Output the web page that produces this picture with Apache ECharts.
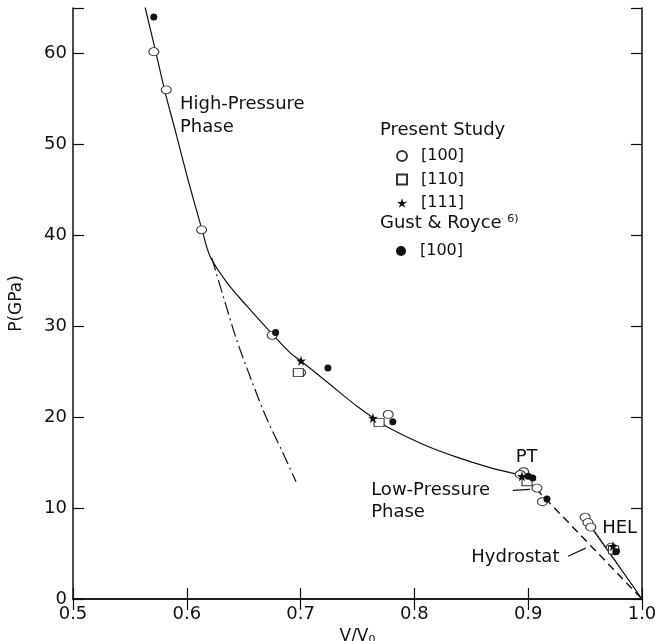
<!DOCTYPE html>
<html>
<head>
<meta charset="utf-8">
<script src="https://cdn.jsdelivr.net/npm/echarts@6/dist/echarts.min.js"></script>
<style>
html,body{margin:0;padding:0;background:#fff;}
#chart{width:660px;height:641px;}
</style>
</head>
<body>
<div id="chart"></div>
<script>
// ---- Data (V/V0, P in GPa) ----
var highCurveV = [0.5633, 0.5721, 0.5808, 0.5896, 0.6011, 0.6134, 0.6204, 0.6353, 0.6529, 0.6731, 0.6907, 0.701, 0.720, 0.7346, 0.749, 0.7635, 0.7786, 0.8078, 0.8372, 0.8664, 0.8928];
var highCurveP = [65.1, 60.5, 55.8, 51.65, 46.1, 40.6, 37.7, 34.8, 32.2, 29.4, 27.1, 26.1, 24.2, 22.7, 21.25, 19.95, 18.75, 17.0, 15.6, 14.45, 13.65];

var dashDotV = [0.622, 0.632, 0.6438, 0.657, 0.670, 0.684, 0.696];
var dashDotP = [37.5, 33.3, 28.5, 24.0, 19.9, 16.2, 12.9];

var lowPhaseV = [0.8928, 0.907];
var lowPhaseP = [13.65, 12.1];

var hydrostatV = [0.907, 1.0];
var hydrostatP = [12.1, 0.0];

var helLine1V = [0.951, 1.0];
var helLine1P = [8.8, 0.0];
var helLine2V = [0.955, 1.0];
var helLine2P = [7.9, 0.0];

// Present study [100] (open circles)
var open100V = [0.571, 0.582, 0.613, 0.675, 0.700, 0.777, 0.896, 0.893, 0.9077, 0.9125, 0.950, 0.9525, 0.955, 0.973, 0.976];
var open100P = [60.2, 56.0, 40.6, 29.0, 24.9, 20.3, 14.0, 13.7, 12.2, 10.7, 9.0, 8.4, 7.9, 5.7, 5.3];
// Present study [110] (open squares)
var sq110V = [0.698, 0.769, 0.899, 0.975];
var sq110P = [24.9, 19.4, 12.9, 5.4];
// Present study [111] (stars)
var star111V = [0.7004, 0.7636, 0.8945, 0.9745];
var star111P = [26.2, 19.9, 13.5, 5.8];
// Gust & Royce [100] (filled circles)
var gr100V = [0.571, 0.678, 0.724, 0.781, 0.900, 0.904, 0.9165, 0.977];
var gr100P = [64.0, 29.3, 25.4, 19.5, 13.5, 13.3, 11.0, 5.2];

var xTicks = [0.5, 0.6, 0.7, 0.8, 0.9, 1.0];
var yTicks = [0, 10, 20, 30, 40, 50, 60];

// Annotations (data coordinates of text left edge / vertical centre)
var annoText = ['High-Pressure', 'Phase', 'PT', 'Low-Pressure', 'Phase', 'HEL', 'Hydrostat'];
var annoV    = [0.594, 0.594, 0.889, 0.762, 0.762, 0.965, 0.850];
var annoP    = [54.4, 51.9, 15.6, 11.9, 9.5, 7.8, 4.6];

// Arrows [fromV, fromP, toV, toP]
var arrowLow = [0.8865, 11.95, 0.9015, 12.05];
var arrowHyd = [0.935, 4.7, 0.9505, 5.6];

function zip(a, b) { return a.map(function (v, i) { return [v, b[i]]; }); }

var starPath = 'path://M50,0 L61.8,35.1 L97.6,34.5 L68.8,56.9 L79.4,91 L50,70 L20.6,91 L31.2,56.9 L2.4,34.5 L38.2,35.1 Z';
var FONT = 'DejaVu Sans';
var INK = '#111';

var chart = echarts.init(document.getElementById('chart'), null, {renderer: 'canvas'});

var axisCommon = {
  type: 'value',
  axisLine: {show: true, lineStyle: {color: INK, width: 1.5}},
  axisTick: {show: true, inside: true, length: 11, lineStyle: {color: INK, width: 1.2}},
  splitLine: {show: false}
};

var option = {
  backgroundColor: '#fff',
  animation: false,
  grid: {left: 73, right: 18, top: 8, bottom: 42, containLabel: false, outerBoundsMode: 'none'},
  xAxis: [
    Object.assign({}, axisCommon, {
      min: 0.5, max: 1.0, interval: 0.1, position: 'bottom',
      name: 'V/V{sub|0}', nameLocation: 'middle', nameGap: 26,
      nameTextStyle: {fontFamily: FONT, fontSize: 17, color: INK,
        rich: {sub: {fontFamily: FONT, fontSize: 11, color: INK, verticalAlign: 'bottom', padding: [8, 0, 0, 0]}}},
      axisLabel: {fontFamily: FONT, fontSize: 18, color: INK, margin: 6,
        formatter: function (v) { return v.toFixed(1); }}
    }),
    Object.assign({}, axisCommon, {
      min: 0.5, max: 1.0, interval: 0.1, position: 'top',
      axisLabel: {show: false}
    })
  ],
  yAxis: [
    Object.assign({}, axisCommon, {
      min: 0, max: 65, interval: 10, position: 'left',
      name: 'P(GPa)', nameLocation: 'middle', nameGap: 48,
      nameTextStyle: {fontFamily: FONT, fontSize: 17, color: INK},
      axisLabel: {fontFamily: FONT, fontSize: 18, color: INK, margin: 6,
        formatter: function (v) { return yTicks.indexOf(v) >= 0 ? String(v) : ''; }}
    }),
    Object.assign({}, axisCommon, {
      min: 0, max: 65, interval: 10, position: 'right',
      axisLabel: {show: false}
    })
  ],
  legend: [{
    left: 391, top: 143, orient: 'vertical', itemGap: 7.5, itemWidth: 10, itemHeight: 10,
    data: ['Present [100]', 'Present [110]', 'Present [111]'],
    formatter: function (n) { return n.slice(n.indexOf('[')); },
    textStyle: {fontFamily: FONT, fontSize: 16, color: INK, padding: [0, 0, 0, 9]},
    selectedMode: false
  }, {
    left: 391, top: 238, orient: 'vertical', itemWidth: 10, itemHeight: 10,
    data: ['Gust & Royce [100]'],
    formatter: function (n) { return n.slice(n.indexOf('[')); },
    textStyle: {fontFamily: FONT, fontSize: 16, color: INK, padding: [0, 0, 0, 9]},
    selectedMode: false
  }],
  series: [
    {name: 'curve', type: 'line', data: zip(highCurveV, highCurveP), smooth: 0.3, showSymbol: false,
     lineStyle: {color: INK, width: 1.2}, silent: true, z: 2},
    {name: 'dashdot', type: 'line', data: zip(dashDotV, dashDotP), smooth: 0.3, showSymbol: false,
     lineStyle: {color: INK, width: 1.2, type: [13, 4, 2, 4]}, silent: true, z: 2},
    {name: 'low', type: 'line', data: zip(lowPhaseV, lowPhaseP), showSymbol: false,
     lineStyle: {color: INK, width: 1.2}, silent: true, z: 2},
    {name: 'hydro', type: 'line', data: zip(hydrostatV, hydrostatP), showSymbol: false,
     lineStyle: {color: INK, width: 1.4, type: [8, 5]}, silent: true, z: 2,
     markLine: {silent: true, symbol: ['none', 'arrow'], symbolSize: [0, 7],
       lineStyle: {color: INK, width: 1.2, type: 'solid'}, label: {show: false},
       data: [
         [{coord: [arrowLow[0], arrowLow[1]]}, {coord: [arrowLow[2], arrowLow[3]]}],
         [{coord: [arrowHyd[0], arrowHyd[1]]}, {coord: [arrowHyd[2], arrowHyd[3]]}]
       ]}},
    {name: 'hel1', type: 'line', data: zip(helLine1V, helLine1P), showSymbol: false,
     lineStyle: {color: INK, width: 1}, silent: true, z: 2},
    {name: 'hel2', type: 'line', data: zip(helLine2V, helLine2P), showSymbol: false,
     lineStyle: {color: INK, width: 1}, silent: true, z: 2},
    {name: 'Present [100]', type: 'scatter', data: zip(open100V, open100P), symbol: 'circle', symbolSize: [10, 8],
     itemStyle: {color: '#fff', borderColor: '#333', borderWidth: 1, opacity: 1}, z: 3},
    {name: 'Present [110]', type: 'scatter', data: zip(sq110V, sq110P), symbol: 'rect', symbolSize: [10, 8],
     itemStyle: {color: '#fff', borderColor: '#333', borderWidth: 1, opacity: 1}, z: 4},
    {name: 'Present [111]', type: 'scatter', data: zip(star111V, star111P), symbol: starPath, symbolSize: 10,
     itemStyle: {color: INK, opacity: 1}, z: 5},
    {name: 'Gust & Royce [100]', type: 'scatter', data: zip(gr100V, gr100P), symbol: 'circle', symbolSize: 7,
     itemStyle: {color: INK, opacity: 1}, z: 5}
  ]
};

chart.setOption(option);

// Text annotations placed from data coordinates
var gfx = [];
for (var i = 0; i < annoText.length; i++) {
  var p = chart.convertToPixel({xAxisIndex: 0, yAxisIndex: 0}, [annoV[i], annoP[i]]);
  gfx.push({type: 'text', x: p[0], y: p[1], z: 10,
    style: {text: annoText[i], fontFamily: FONT, fontSize: 18, fill: INK, verticalAlign: 'middle'}});
}
// Legend headings
gfx.push({type: 'text', left: 380, top: 121, z: 10,
  style: {text: 'Present Study', fontFamily: FONT, fontSize: 18, fill: INK}});
gfx.push({type: 'text', left: 380, top: 214, z: 10,
  style: {text: '{a|Gust & Royce} {s|6)}', fontFamily: FONT, fontSize: 18, fill: INK,
    rich: {a: {fontFamily: FONT, fontSize: 18, color: INK},
           s: {fontFamily: FONT, fontSize: 11, color: INK, verticalAlign: 'top', padding: [0, 0, 8, 0]}}}});
chart.setOption({graphic: gfx});
</script>
</body>
</html>
